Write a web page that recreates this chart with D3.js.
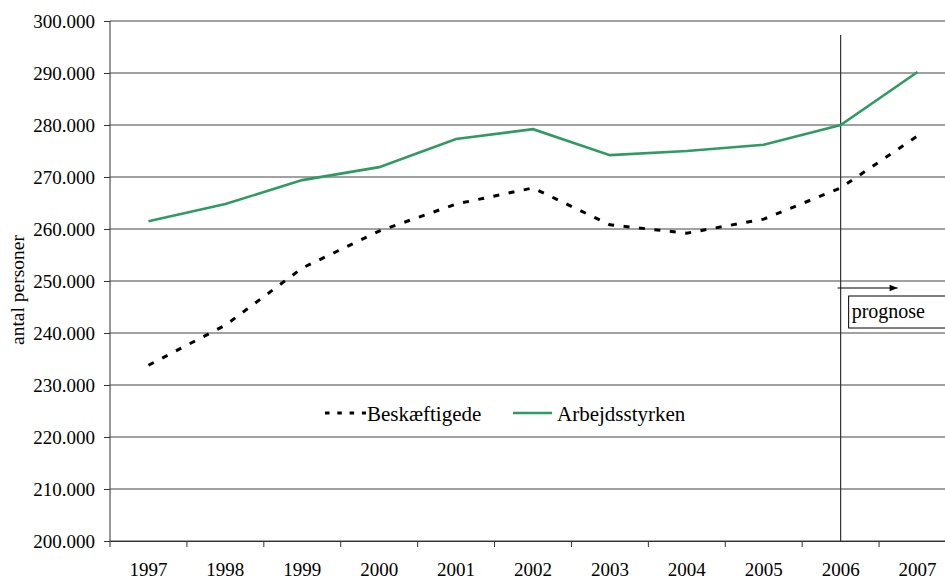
<!DOCTYPE html>
<html><head><meta charset="utf-8">
<script src="https://cdn.jsdelivr.net/npm/d3@7"></script>
<style>body{margin:0;background:#fff}svg{display:block}</style>
</head><body>
<svg id="c" width="945" height="579"></svg>
<script>
const years = ["1997","1998","1999","2000","2001","2002","2003","2004","2005","2006","2007"];
const beskaeftigede = [233.8,241.5,252.5,259.6,264.8,267.9,260.8,259.2,261.9,267.9,277.9];
const arbejdsstyrken = [261.5,264.8,269.4,271.9,277.3,279.2,274.2,275.0,276.2,280.0,290.2];
const yTicks = [200,210,220,230,240,250,260,270,280,290,300];
const seriesNames = ["Beskæftigede","Arbejdsstyrken"];

(function(){
const FF = "'Liberation Serif', 'Times New Roman', Times, serif";
const GREEN = "#2f9b62";
const svg = d3.select("#c");
const mL=110, mT=21, mB=541, mR=956;
const x = d3.scaleBand().domain(years).range([mL,mR]);
const y = d3.scaleLinear().domain([200,300]).range([mB,mT]);

// gridlines
svg.append("g").selectAll("line").data(yTicks).join("line")
  .attr("x1",mL).attr("x2",945).attr("y1",d=>y(d)).attr("y2",d=>y(d))
  .attr("stroke","#444").attr("stroke-width",1);

// y axis
const ya = svg.append("g").attr("transform",`translate(${mL},0)`)
  .call(d3.axisLeft(y).tickValues(yTicks).tickSize(6).tickFormat(d=>d3.format(".3f")(d)));
ya.select(".domain").attr("stroke","#333").attr("d",`M0,${mT}V${mB+6}`);
ya.selectAll(".tick line").attr("stroke","#333");
ya.selectAll("text").style("font-family",FF).style("font-size","19px").attr("x",-15).attr("fill","#000");

// x axis
const xa = svg.append("g").attr("transform",`translate(0,${mB})`)
  .call(d3.axisBottom(x).tickSize(0));
xa.select(".domain").attr("stroke","#333");
xa.selectAll("text").style("font-family",FF).style("font-size","19px")
  .attr("y",35).attr("dy",0).attr("fill","#000");
svg.append("g").selectAll("line").data(years.slice(1)).join("line")
  .attr("x1",d=>x(d)).attr("x2",d=>x(d)).attr("y1",mB).attr("y2",mB+6)
  .attr("stroke","#333");

// y title
svg.append("text").attr("transform",`translate(24,290) rotate(-90)`)
  .attr("text-anchor","middle").style("font-family",FF).style("font-size","19.5px")
  .text("antal personer");

// prognose marker
const xp = x("2006")+x.bandwidth()/2;
svg.append("line").attr("x1",xp).attr("x2",xp).attr("y1",35).attr("y2",mB)
  .attr("stroke","#333").attr("stroke-width",1.2);
svg.append("defs").append("marker").attr("id","ar").attr("viewBox","0 0 10 10")
  .attr("refX",10).attr("refY",5).attr("markerWidth",9).attr("markerHeight",8)
  .attr("markerUnits","userSpaceOnUse").attr("orient","auto")
  .append("path").attr("d","M0,1 L10,5 L0,9 Z").attr("fill","#000");
svg.append("line").attr("x1",xp-3).attr("x2",xp+57).attr("y1",288).attr("y2",288)
  .attr("stroke","#000").attr("stroke-width",1.2).attr("marker-end","url(#ar)");
svg.append("rect").attr("x",xp+8).attr("y",296).attr("width",120).attr("height",32)
  .attr("fill","#fff").attr("stroke","#000").attr("stroke-width",1);
svg.append("text").attr("x",xp+11).attr("y",318).style("font-family",FF).style("font-size","20px").text("prognose");

// lines
const line = d3.line().x((d,i)=>x(years[i])+x.bandwidth()/2).y(d=>y(d));
svg.append("path").datum(beskaeftigede).attr("d",line).attr("fill","none")
  .attr("stroke","#000").attr("stroke-width",3).attr("stroke-dasharray","6,9.5");
svg.append("path").datum(arbejdsstyrken).attr("d",line).attr("fill","none")
  .attr("stroke",GREEN).attr("stroke-width",2.6);

// legend
svg.append("line").attr("x1",325).attr("x2",366).attr("y1",413).attr("y2",413)
  .attr("stroke","#000").attr("stroke-width",3).attr("stroke-dasharray","4.5,7.8");
svg.append("text").attr("x",367).attr("y",421).style("font-family",FF).style("font-size","21px").text(seriesNames[0]);
svg.append("line").attr("x1",513).attr("x2",552).attr("y1",413).attr("y2",413)
  .attr("stroke",GREEN).attr("stroke-width",2.6);
svg.append("text").attr("x",557).attr("y",421).style("font-family",FF).style("font-size","21px").text(seriesNames[1]);
})();
</script>
</body></html>
